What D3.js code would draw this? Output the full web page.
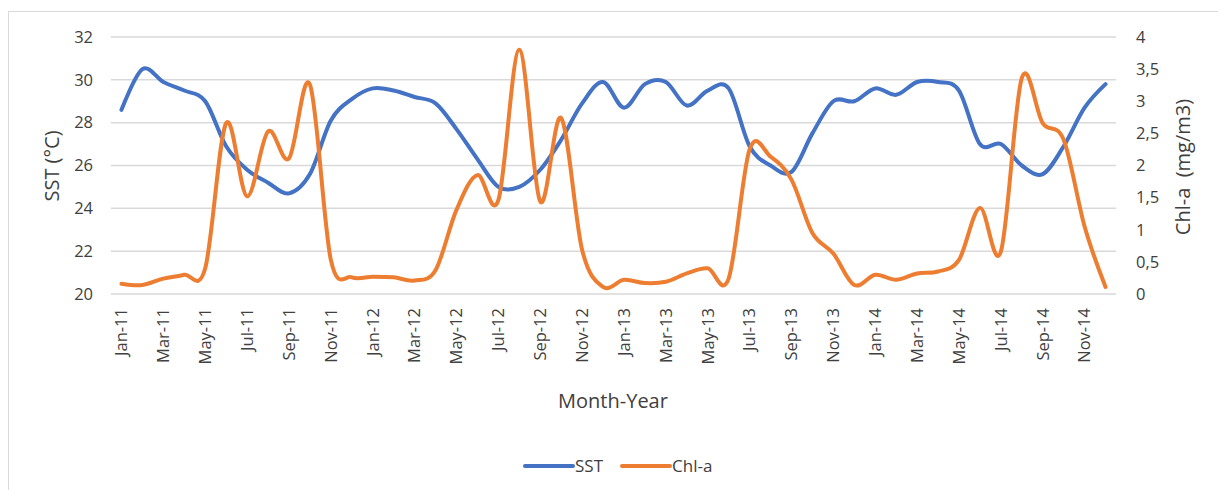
<!DOCTYPE html>
<html>
<head>
<meta charset="utf-8">
<script src="https://cdn.jsdelivr.net/npm/d3@7"></script>
<style>
  body { margin: 0; background: #fff; }
  text { font-family: "Open Sans", sans-serif; fill: #404040; }
</style>
</head>
<body>
<div id="container"></div>
<script>
let w = 1218;
let h = 490;

// months Jan-11 .. Dec-14
let monthNames = ["Jan","Feb","Mar","Apr","May","Jun","Jul","Aug","Sep","Oct","Nov","Dec"];
let years = ["11","12","13","14"];
let months = [];
years.forEach(function(y){
  monthNames.forEach(function(m){ months.push(m + "-" + y); });
});

let sst = [28.6,30.5,29.9,29.5,29.0,26.9,25.8,25.2,24.7,25.6,28.1,29.1,
           29.6,29.5,29.2,28.9,27.7,26.3,25.0,25.0,25.8,27.2,28.9,29.9,
           28.7,29.8,29.9,28.8,29.5,29.6,26.9,26.0,25.7,27.5,29.0,29.0,
           29.6,29.3,29.9,29.9,29.5,27.0,27.0,26.0,25.6,26.9,28.7,29.8];

let chla = [0.16,0.14,0.24,0.30,0.40,2.66,1.52,2.53,2.11,3.26,0.53,0.26,
            0.27,0.26,0.21,0.37,1.31,1.85,1.46,3.80,1.44,2.74,0.69,0.11,
            0.22,0.17,0.19,0.32,0.40,0.24,2.25,2.14,1.78,0.95,0.63,0.14,
            0.30,0.22,0.32,0.35,0.53,1.34,0.66,3.36,2.66,2.40,1.05,0.11];

let sstTicks = [20,22,24,26,28,30,32];
let chlTicks = [0,0.5,1,1.5,2,2.5,3,3.5,4];

let padLeft = 111, padRight = 1116, padTop = 37, padBottom = 294;

let viz = d3.select("#container")
  .append("svg")
    .attr("width", w)
    .attr("height", h)
;

// chart border (only top and left visible in the crop)
viz.append("line").attr("x1",8).attr("x2",w).attr("y1",11.5).attr("y2",11.5)
  .attr("stroke","#d9d9d9").attr("stroke-width",1);
viz.append("line").attr("x1",8.5).attr("x2",8.5).attr("y1",11).attr("y2",h)
  .attr("stroke","#d9d9d9").attr("stroke-width",1);

let xScale = d3.scaleBand().domain(months).range([padLeft,padRight]);
let yScale = d3.scaleLinear().domain([20,32]).range([padBottom,padTop]);
let y2Scale = d3.scaleLinear().domain([0,4]).range([padBottom,padTop]);

// gridlines
viz.append("g").attr("class","grid")
  .selectAll("line").data(sstTicks).enter().append("line")
    .attr("x1",padLeft).attr("x2",padRight)
    .attr("y1",function(d){ return yScale(d); })
    .attr("y2",function(d){ return yScale(d); })
    .attr("stroke","#d9d9d9").attr("stroke-width",1.5)
;

// left axis
let yAxis = d3.axisLeft(yScale).tickValues(sstTicks).tickSize(0).tickPadding(18);
let yAxisGroup = viz.append("g").attr("class","yaxis")
  .attr("transform","translate("+padLeft+",0)").call(yAxis);

// right axis
let fmt = function(d){ return String(d).replace(".", ","); };
let y2Axis = d3.axisRight(y2Scale).tickValues(chlTicks).tickSize(0).tickPadding(20).tickFormat(fmt);
let y2AxisGroup = viz.append("g").attr("class","y2axis")
  .attr("transform","translate("+padRight+",0)").call(y2Axis);

// x axis, every second month labelled
let xAxis = d3.axisBottom(xScale)
  .tickValues(months.filter(function(d,i){ return i % 2 == 0; }))
  .tickSize(0).tickPadding(0);
let xAxisGroup = viz.append("g").attr("class","xaxis")
  .attr("transform","translate(0,"+padBottom+")").call(xAxis);

[yAxisGroup, y2AxisGroup, xAxisGroup].forEach(function(g){
  g.select(".domain").remove();
  g.selectAll("text").attr("font-family","Open Sans, sans-serif").attr("font-size",16.5).attr("fill","#404040");
});

xAxisGroup.selectAll("text")
  .attr("transform","rotate(-90)")
  .attr("text-anchor","end")
  .attr("x",-14).attr("y",0).attr("dy","0.35em");

// lines
let xc = function(d,i){ return xScale(months[i]) + xScale.bandwidth()/2; };

let sstLine = d3.line().x(xc).y(function(d){ return yScale(d); }).curve(d3.curveCardinal.tension(0));
let chlLine = d3.line().x(xc).y(function(d){ return y2Scale(d); }).curve(d3.curveCardinal.tension(0));

viz.append("path").datum(sst).attr("d",sstLine)
  .attr("fill","none").attr("stroke","#4472C4").attr("stroke-width",4).attr("stroke-linecap","round");
viz.append("path").datum(chla).attr("d",chlLine)
  .attr("fill","none").attr("stroke","#ED7D31").attr("stroke-width",4).attr("stroke-linecap","round");

// axis titles
viz.append("text").text("SST (°C)")
  .attr("transform","translate(59,166) rotate(-90)")
  .attr("text-anchor","middle").attr("font-size",20);
viz.append("text").text("Chl-a  (mg/m3)")
  .attr("transform","translate(1190,167) rotate(-90)")
  .attr("text-anchor","middle").attr("font-size",20).style("white-space","pre");
viz.append("text").text("Month-Year")
  .attr("x",613).attr("y",408)
  .attr("text-anchor","middle").attr("font-size",20);

// legend
let legendItems = [{name:"SST", color:"#4472C4", x:525},{name:"Chl-a", color:"#ED7D31", x:622}];
let lg = viz.selectAll(".legend").data(legendItems).enter().append("g").attr("class","legend");
lg.append("line")
  .attr("x1",function(d){ return d.x; }).attr("x2",function(d){ return d.x+48; })
  .attr("y1",466).attr("y2",466)
  .attr("stroke",function(d){ return d.color; }).attr("stroke-width",4).attr("stroke-linecap","round");
lg.append("text").text(function(d){ return d.name; })
  .attr("x",function(d){ return d.x+50; }).attr("y",466).attr("dy","0.35em")
  .attr("font-size",17);
</script>
</body>
</html>
